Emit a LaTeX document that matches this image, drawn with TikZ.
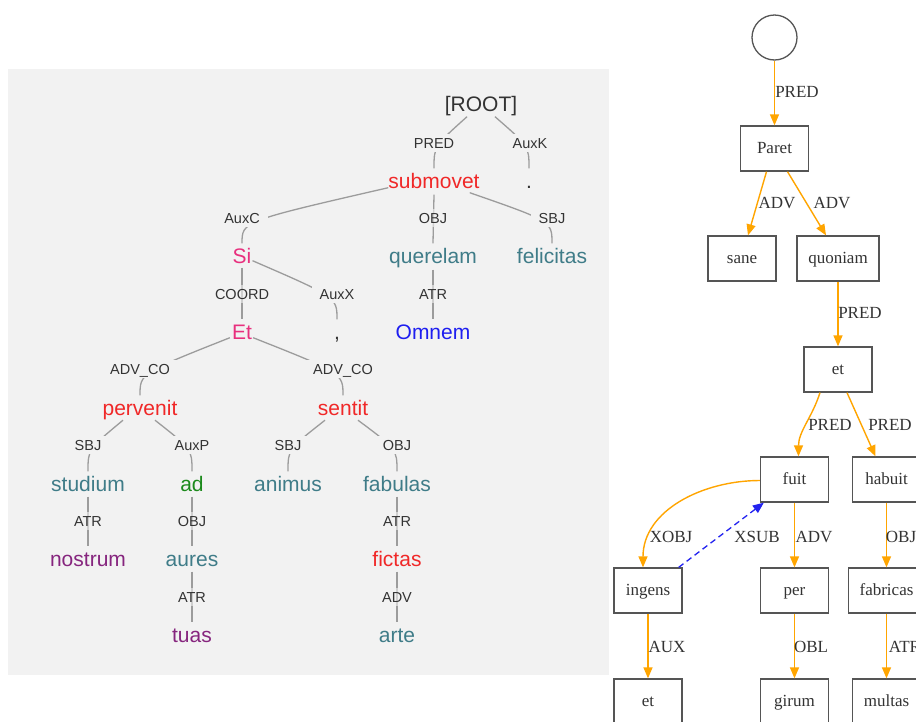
\documentclass[tikz,border=0pt]{standalone}
\usepackage{fontspec}
\setmainfont{Liberation Serif}
\newfontfamily\sansf{Liberation Sans}
\usetikzlibrary{calc,arrows.meta}
\definecolor{bggray}{HTML}{F2F2F2}
\definecolor{linegray}{HTML}{9C9C9C}
\definecolor{txtdark}{HTML}{333333}
\definecolor{wred}{HTML}{F02828}
\definecolor{wpink}{HTML}{E8307E}
\definecolor{wteal}{HTML}{3F7C88}
\definecolor{wblue}{HTML}{1E1EF0}
\definecolor{wpurple}{HTML}{86257E}
\definecolor{wgreen}{HTML}{1C8A1C}
\definecolor{gorange}{HTML}{FFA500}
\definecolor{gblue}{HTML}{2323F0}
\definecolor{boxgray}{HTML}{555555}
\begin{document}
\begin{tikzpicture}[x=1pt,y=-1pt,
  word/.style={font=\sansf\fontsize{21}{21}\selectfont, inner sep=0pt, text height=15pt, text depth=0pt},
  deplab/.style={font=\sansf\fontsize{14.5}{14.5}\selectfont, text=txtdark, fill=bggray, inner xsep=8pt, inner ysep=4pt, text height=10.5pt, text depth=0pt},
  deplabv/.style={deplab, fill opacity=0.6, text opacity=1},
  tedge/.style={draw=linegray, line width=1.3pt},
  gbox/.style={draw=boxgray, line width=1.3pt, minimum width=68pt, minimum height=45pt, inner sep=0pt, font=\fontsize{17}{17}\selectfont, text=txtdark, text height=11.5pt, text depth=2pt},
  gcirc/.style={draw=boxgray, line width=1.3pt, circle, minimum size=45pt, inner sep=0pt},
  glab/.style={font=\fontsize{17}{17}\selectfont, text=txtdark, inner sep=0pt},
  gedge/.style={draw=gorange, line width=1.4pt, -{Triangle[length=11pt,width=9pt]}, color=gorange},
  xedge/.style={draw=gblue, line width=1.3pt, dash pattern=on 6pt off 4pt, -{Triangle[length=11pt,width=9pt]}, color=gblue}
]
\clip (0,0) rectangle (916,721);
\fill[white] (0,0) rectangle (916,721);
\fill[bggray] (8,69) rectangle (609,675);

% ---------- dependency tree (left) ----------
\node[word,text=txtdark] (root) at (481,104) {[ROOT]};
\node[word,text=wred] (submovet) at (434,181) {submovet};
\node[word,text=txtdark] (dot) at (529,181) {.};
\node[word,text=wpink] (si) at (242,256) {Si};
\node[word,text=wteal] (querelam) at (433,256) {querelam};
\node[word,text=wteal] (felicitas) at (552,256) {felicitas};
\node[word,text=wpink] (et) at (242,332) {Et};
\node[word,text=txtdark] (comma) at (337,332) {,};
\node[word,text=wblue] (omnem) at (433,332) {Omnem};
\node[word,text=wred] (pervenit) at (140,408) {pervenit};
\node[word,text=wred] (sentit) at (343,408) {sentit};
\node[word,text=wteal] (studium) at (88,484) {studium};
\node[word,text=wgreen] (ad) at (192,484) {ad};
\node[word,text=wteal] (animus) at (288,484) {animus};
\node[word,text=wteal] (fabulas) at (397,484) {fabulas};
\node[word,text=wpurple] (nostrum) at (88,559) {nostrum};
\node[word,text=wteal] (aures) at (192,559) {aures};
\node[word,text=wred] (fictas) at (397,559) {fictas};
\node[word,text=wpurple] (tuas) at (192,635) {tuas};
\node[word,text=wteal] (arte) at (397,635) {arte};

% curved edges
\draw[tedge] ($(root.south)+(-14,5)$) .. controls ($(submovet.north)+(0,-27)$) .. ($(submovet.north)+(0,-5)$);
\draw[tedge] ($(root.south)+(14,5)$) .. controls ($(dot.north)+(0,-27)$) .. ($(dot.north)+(0,-5)$);
\draw[tedge] ($(submovet.south west)+(0,-1)$) .. controls ($(si.north)+(0,-27)$) .. ($(si.north)+(0,-5)$);
\draw[tedge] ($(submovet.south east)+(-10,4)$) .. controls ($(felicitas.north)+(0,-27)$) .. ($(felicitas.north)+(0,-5)$);
\draw[tedge] ($(si.south east)+(1,-3)$) .. controls ($(comma.north)+(0,-27)$) .. ($(comma.north)+(0,-5)$);
\draw[tedge] ($(et.south west)+(-2,-2)$) .. controls ($(pervenit.north)+(0,-27)$) .. ($(pervenit.north)+(0,-5)$);
\draw[tedge] ($(et.south east)+(1,-2)$) .. controls ($(sentit.north)+(0,-27)$) .. ($(sentit.north)+(0,-5)$);
\draw[tedge] ($(pervenit.south)+(-17,4.5)$) .. controls ($(studium.north)+(0,-27)$) .. ($(studium.north)+(0,-5)$);
\draw[tedge] ($(pervenit.south)+(15,4.5)$) .. controls ($(ad.north)+(0,-27)$) .. ($(ad.north)+(0,-5)$);
\draw[tedge] ($(sentit.south)+(-18,4.5)$) .. controls ($(animus.north)+(0,-27)$) .. ($(animus.north)+(0,-5)$);
\draw[tedge] ($(sentit.south)+(15,4.5)$) .. controls ($(fabulas.north)+(0,-27)$) .. ($(fabulas.north)+(0,-5)$);

% straight edges
\draw[tedge] ($(submovet.south)+(0,6)$) -- ($(querelam.north)+(0,-5)$);
\draw[tedge] ($(querelam.south)+(0,6)$) -- ($(omnem.north)+(0,-5)$);
\draw[tedge] ($(si.south)+(0,4)$) -- ($(et.north)+(0,-5)$);
\draw[tedge] ($(studium.south)+(0,5)$) -- ($(nostrum.north)+(0,-5)$);
\draw[tedge] ($(ad.south)+(0,5)$) -- ($(aures.north)+(0,-5)$);
\draw[tedge] ($(aures.south)+(0,5)$) -- ($(tuas.north)+(0,-5)$);
\draw[tedge] ($(fabulas.south)+(0,5)$) -- ($(fictas.north)+(0,-5)$);
\draw[tedge] ($(fictas.south)+(0,5)$) -- ($(arte.north)+(0,-5)$);

% relation labels
\node[deplab] (l1) at (434,143) {PRED};
\node[deplab] (l2) at (530,143) {AuxK};
\node[deplab] (l3) at (242,218) {AuxC};
\node[deplabv] (l4) at (433,218) {OBJ};
\node[deplab] (l5) at (552,218) {SBJ};
\node[deplabv] (l6) at (242,294) {COORD};
\node[deplab] (l7) at (337,294) {AuxX};
\node[deplabv] (l8) at (433,294) {ATR};
\node[deplab] (l9) at (140,369) {ADV\_CO};
\node[deplab] (l10) at (343,369) {ADV\_CO};
\node[deplab] (l11) at (88,445) {SBJ};
\node[deplab] (l12) at (192,445) {AuxP};
\node[deplab] (l13) at (288,445) {SBJ};
\node[deplab] (l14) at (397,445) {OBJ};
\node[deplabv] (l15) at (88,521) {ATR};
\node[deplabv] (l16) at (192,521) {OBJ};
\node[deplabv] (l17) at (397,521) {ATR};
\node[deplabv] (l18) at (192,597) {ATR};
\node[deplabv] (l19) at (397,597) {ADV};

% ---------- graph (right) ----------
\node[gcirc] (top) at (774.5,37.5) {};
\node[gbox] (paret) at (774.5,148.5) {Paret};
\node[gbox] (sane) at (742,258.5) {sane};
\node[gbox,minimum width=82pt] (quoniam) at (838,258.5) {quoniam};
\node[gbox] (etg) at (838,369.5) {et};
\node[gbox] (fuit) at (794.5,479.5) {fuit};
\node[gbox] (habuit) at (886.5,479.5) {habuit};
\node[gbox] (ingens) at (648,590.5) {ingens};
\node[gbox] (per) at (794.5,590.5) {per};
\node[gbox,minimum width=76pt] (fabricas) at (886.5,590.5) {fabricas};
\node[gbox] (etb) at (648,701.5) {et};
\node[gbox] (girum) at (794.5,701.5) {girum};
\node[gbox] (multas) at (886.5,701.5) {multas};

\draw[gedge] (top.south) -- (paret.north);
\draw[gedge] ($(paret.south)+(-8,0)$) -- ($(sane.north)+(6,0)$);
\draw[gedge] ($(paret.south)+(13,0)$) -- ($(quoniam.north)+(-12,0)$);
\draw[gedge] (quoniam.south) -- (etg.north);
\draw[gedge] ($(etg.south)+(-18,0)$) .. controls ($(etg.south)+(-26,25)$) and ($(fuit.north)+(4,-25)$) .. ($(fuit.north)+(4,0)$);
\draw[gedge] ($(etg.south)+(9,0)$) -- ($(habuit.north)+(-11,0)$);
\draw[gedge] ($(fuit.west)+(0,1)$) .. controls ($(fuit.west)+(-57,1)$) and ($(ingens.north)+(-5,-57)$) .. ($(ingens.north)+(-5,0)$);
\draw[xedge] ($(ingens.north east)+(-4,0)$) -- ($(fuit.south west)+(4,0)$);
\draw[gedge] (fuit.south) -- (per.north);
\draw[gedge] (habuit.south) -- (fabricas.north);
\draw[gedge] (ingens.south) -- (etb.north);
\draw[gedge] (per.south) -- (girum.north);
\draw[gedge] (fabricas.south) -- (multas.north);

\node[glab] (g1) at (797,92) {PRED};
\node[glab] (g2) at (777,203) {ADV};
\node[glab] (g3) at (832,203) {ADV};
\node[glab] (g4) at (860,313) {PRED};
\node[glab] (g5) at (830,425) {PRED};
\node[glab] (g6) at (890,425) {PRED};
\node[glab] (g7) at (671,537) {XOBJ};
\node[glab] (g8) at (757,537) {XSUB};
\node[glab] (g9) at (814,537) {ADV};
\node[glab] (g10) at (901,537) {OBJ};
\node[glab] (g11) at (667,647) {AUX};
\node[glab] (g12) at (811,647) {OBL};
\node[glab] (g13) at (905,647) {ATR};
\end{tikzpicture}
\end{document}
